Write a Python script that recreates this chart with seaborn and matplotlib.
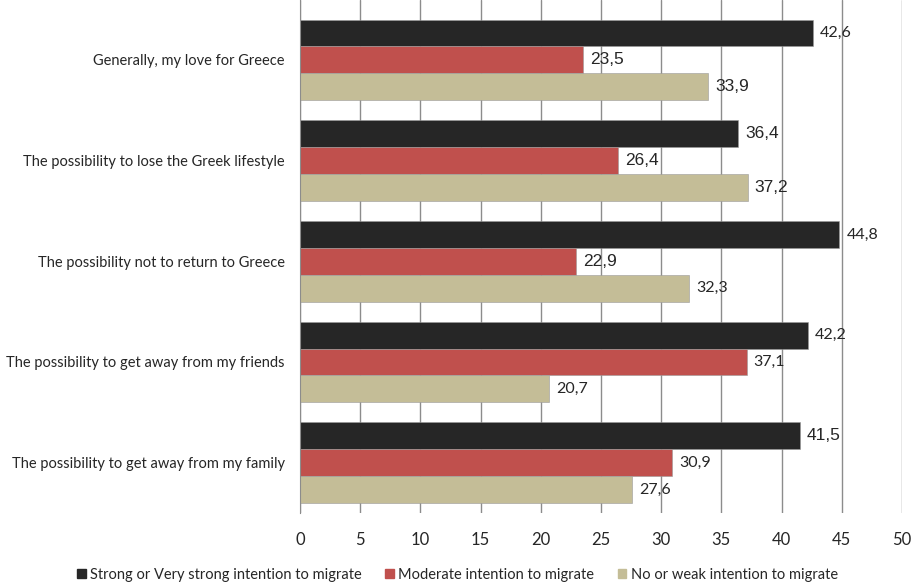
import numpy as np
import seaborn as sns
import matplotlib.pyplot as plt
import matplotlib.patches as mpatches
import pandas as pd

categories = ['Generally, my love for Greece',
              'The possibility to lose the Greek lifestyle',
              'The possibility not to return to Greece',
              'The possibility to get away from my friends',
              'The possibility to get away from my family']
series = ['Strong or Very strong intention to migrate',
          'Moderate intention to migrate',
          'No or weak intention to migrate']
strong = [42.6, 36.4, 44.8, 42.2, 41.5]
moderate = [23.5, 26.4, 22.9, 37.1, 30.9]
weak = [33.9, 37.2, 32.3, 20.7, 27.6]
# labels that the original draws in a bigger Arial-like font
big_labels = [[False, True, False, False, True],
              [True, True, True, False, False],
              [True, True, False, False, False]]
colors = ['#262626', '#C0504D', '#C4BD97']

rows = []
for s, vals in zip(series, [strong, moderate, weak]):
    for c, v in zip(categories, vals):
        rows.append({'cat': c, 'series': s, 'value': v})
df = pd.DataFrame(rows)

sns.set_style('white')
plt.rcParams['font.family'] = ['Lato', 'DejaVu Sans']

fig = plt.figure(figsize=(9.15, 5.83), dpi=100)
ax = fig.add_axes([300/915, 1 - 513/583, 602/915, 513/583])

sns.barplot(data=df, y='cat', x='value', hue='series', palette=colors,
            orient='h', width=0.8, saturation=1, legend=False, ax=ax,
            linewidth=0.4, edgecolor='#9a9a9a')

for i, cont in enumerate(ax.containers):
    labels = [str(v).replace('.', ',') for v in cont.datavalues]
    texts = ax.bar_label(cont, labels=labels, padding=5, fontsize=11.5)
    for j, t in enumerate(texts):
        if big_labels[i][j]:
            t.set_family('Liberation Sans')
            t.set_fontsize(12.5)

ax.set_xlim(0, 50)
ax.set_ylim(4.5, -0.595)
ax.set_xticks(np.arange(0, 51, 5))
ax.xaxis.grid(True, color='#8c8c8c', linewidth=1)
ax.set_axisbelow(True)
for sp in ['top', 'right', 'bottom']:
    ax.spines[sp].set_visible(False)
ax.spines['left'].set_color('#8c8c8c')
ax.tick_params(axis='x', labelsize=12, pad=14, length=0)
ax.tick_params(axis='y', labelsize=10.5, pad=11, length=0)
ax.set_xlabel('')
ax.set_ylabel('')

handles = [mpatches.Patch(color=c, label=s) for c, s in zip(colors, series)]
fig.legend(handles=handles, loc='lower center', bbox_to_anchor=(0.5, -0.02),
           ncol=3, frameon=False, fontsize=10.5, handlelength=0.6,
           handleheight=0.6, handletextpad=0.3, columnspacing=1.6)

fig.savefig('out.png', dpi=100)
